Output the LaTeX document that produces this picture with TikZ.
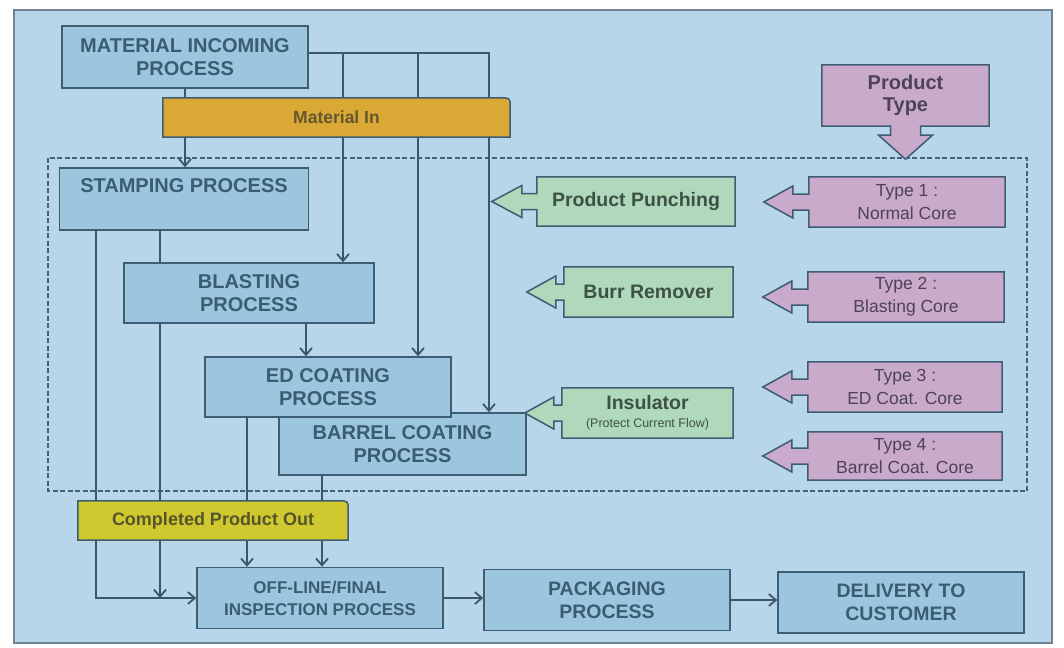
\documentclass[tikz,border=0pt]{standalone}
\usepackage{fontspec}
\setmainfont{Liberation Sans}
\usetikzlibrary{arrows.meta,backgrounds}

\definecolor{bgblue}{HTML}{B8D6E9}
\definecolor{frameedge}{HTML}{6E8494}
\definecolor{procfill}{HTML}{9CC6DE}
\definecolor{edge}{HTML}{3E5C72}
\definecolor{wire}{HTML}{3C566B}
\definecolor{dashline}{HTML}{44607A}
\definecolor{proctext}{HTML}{3A5C74}
\definecolor{gold}{HTML}{DAA935}
\definecolor{goldtext}{HTML}{665630}
\definecolor{lime}{HTML}{CFC92F}
\definecolor{limetext}{HTML}{55542A}
\definecolor{mint}{HTML}{B0D8BA}
\definecolor{minttext}{HTML}{3C5246}
\definecolor{lilac}{HTML}{C9AACB}
\definecolor{lilactext}{HTML}{4E4356}

\tikzset{
  proc/.style={draw=edge, line width=1.5pt, fill=procfill, text=proctext,
    align=center, inner sep=0pt, font=\fontsize{20}{23}\selectfont\bfseries},
  tagtext/.style={inner sep=0pt, align=center, font=\fontsize{17.5}{20}\selectfont\bfseries},
  outline/.style={draw=edge, line width=1.5pt, fill=#1},
  note/.style={inner sep=0pt, align=center, text=minttext,
    font=\fontsize{19.5}{21}\selectfont\bfseries},
  kind/.style={inner sep=0pt, align=center, text=lilactext,
    font=\fontsize{17.5}{23}\selectfont},
  arr/.style={draw=wire, line width=1.8pt, -{Straight Barb[length=7pt,width=12pt]}},
  region/.style={draw=dashline, line width=1.3pt, dash pattern=on 5pt off 2.5pt}
}

% box with a left-pointing arrow: #1 node, #2 tip distance, #3 shaft length, #4 fill
\newcommand\lcall[4]{%
  \path[outline=#4] (#1.north west) -- (#1.north east) -- (#1.south east) -- (#1.south west)
    -- ([yshift=-8pt]#1.west) -- ([shift={(-#3pt,-8pt)}]#1.west)
    -- ([shift={(-#3pt,-16pt)}]#1.west) -- ([xshift=-#2pt]#1.west)
    -- ([shift={(-#3pt,16pt)}]#1.west) -- ([shift={(-#3pt,8pt)}]#1.west)
    -- ([yshift=8pt]#1.west) -- cycle;}

% label band with a rounded upper right corner: #1 node, #2 fill
\newcommand\bandpath[2]{%
  \path[outline=#2] (#1.south west) -- (#1.north west) -- ([xshift=-10pt]#1.north east)
    .. controls (#1.north east) .. ([yshift=-10pt]#1.north east) -- (#1.south east) -- cycle;}

\begin{document}
\begin{tikzpicture}[x=1pt,y=-1pt]
\useasboundingbox (0,0) rectangle (1064,647);

% sheet and grouping frame
\begin{scope}[on background layer]
  \fill[white] (0,0) rectangle (1064,647);
  \draw[frameedge, line width=1.6pt, fill=bgblue] (14,10) rectangle (1052,643);
  \draw[region] (48,158) rectangle (1027,491);
\end{scope}

% process boxes
\node[proc, minimum width=246pt, minimum height=62pt] (mip) at (185,57)
  {MATERIAL INCOMING\\PROCESS};
\node[proc, minimum width=249pt, minimum height=62pt, text height=14pt, text depth=26pt]
  (stamp) at (184,199) {STAMPING PROCESS};
\node[proc, minimum width=250pt, minimum height=60pt] (blast) at (249,293)
  {BLASTING\\PROCESS};
\node[proc, minimum width=247pt, minimum height=62pt] (barrel) at (402.5,444)
  {BARREL COATING\\PROCESS};
\node[proc, minimum width=246pt, minimum height=60pt] (ed) at (328,387)
  {ED COATING\\PROCESS};
\node[proc, minimum width=246pt, minimum height=61pt, font=\fontsize{17}{22}\selectfont\bfseries]
  (off) at (320,598) {OFF-LINE/FINAL\\INSPECTION PROCESS};
\node[proc, minimum width=246pt, minimum height=61pt, font=\fontsize{19.5}{23}\selectfont\bfseries]
  (pack) at (607,600) {PACKAGING\\PROCESS};
\node[proc, minimum width=246pt, minimum height=61pt, font=\fontsize{19.5}{23}\selectfont\bfseries]
  (deliv) at (901,602.5) {DELIVERY TO\\CUSTOMER};

% label bands
\node[tagtext, text=goldtext, minimum width=347pt, minimum height=39pt] (matin)
  at (336.5,117.5) {Material In};
\node[tagtext, text=limetext, font=\fontsize{18}{20}\selectfont\bfseries,
  minimum width=270pt, minimum height=39pt] (compl) at (213,520.5) {Completed Product Out};

% material flow
\coordinate (jb) at (343,53);
\coordinate (je) at (418,53);
\begin{scope}[on background layer]
  \draw[arr] ([yshift=4pt]mip.east) -| ([xshift=86.5pt]barrel.north);
  \draw[arr] (jb) -- (jb |- blast.north);
  \draw[arr] (je) -- (je |- ed.north);
  \draw[arr] (mip.south) -- (mip.south |- stamp.north);
  \draw[arr] ([xshift=57pt]blast.south) -- ([xshift=57pt]blast.south |- ed.north);
  \draw[arr] ([xshift=-88pt]stamp.south) |- (off.west);
  \draw[arr] ([xshift=-24pt]stamp.south) -- ([xshift=-24pt]stamp.south |- off.west);
  \draw[arr] ([xshift=-81pt]ed.south) -- ([xshift=-81pt]ed.south |- off.north);
  \draw[arr] ([xshift=-80.5pt]barrel.south) -- ([xshift=-80.5pt]barrel.south |- off.north);
  \draw[arr] (off.east) -- (off.east -| pack.west);
  \draw[arr] (pack.east) -- (pack.east -| deliv.west);
  \bandpath{matin}{gold}
  \bandpath{compl}{lime}
\end{scope}

% treatments
\node[note, minimum width=198pt, minimum height=49pt] (punch) at (636,201.5) {Product Punching};
\node[note, minimum width=169pt, minimum height=50pt] (burr) at (648.5,292) {Burr Remover};
\node[note, minimum width=171pt, minimum height=50pt] (insul) at (647.5,413)
  {Insulator\\[-3pt]{\fontsize{12.5}{14}\selectfont\mdseries (Protect Current Flow)}};

% product types
\node[kind, font=\fontsize{20}{22}\selectfont\bfseries, minimum width=167pt, minimum height=61pt]
  (ptype) at (905.5,95.5) {Product\\Type};
\node[kind, minimum width=196pt, minimum height=50pt] (t1) at (907,202) {Type 1 :\\Normal Core};
\node[kind, minimum width=196pt, minimum height=50pt] (t2) at (906,297) {Type 2 :\\Blasting Core};
\node[kind, minimum width=194pt, minimum height=50pt] (t3) at (905,387) {Type 3 :\\ED Coat. Core};
\node[kind, minimum width=194pt, minimum height=48pt] (t4) at (905,456) {Type 4 :\\Barrel Coat. Core};

\begin{scope}[on background layer]
  \lcall{punch}{45}{15}{mint}
  \lcall{burr}{37}{8}{mint}
  \lcall{insul}{37}{8}{mint}
  \lcall{t1}{45}{16}{lilac}
  \lcall{t2}{45}{16}{lilac}
  \lcall{t3}{45}{16}{lilac}
  \lcall{t4}{45}{16}{lilac}
  \path[outline=lilac] (ptype.south west) -- (ptype.north west) -- (ptype.north east)
    -- (ptype.south east) -- ([xshift=15pt]ptype.south) -- ([shift={(15pt,-9pt)}]ptype.south)
    -- ([shift={(27pt,-9pt)}]ptype.south) -- ([yshift=-33pt]ptype.south)
    -- ([shift={(-27pt,-9pt)}]ptype.south) -- ([shift={(-15pt,-9pt)}]ptype.south)
    -- ([xshift=-15pt]ptype.south) -- cycle;
\end{scope}
\end{tikzpicture}
\end{document}
